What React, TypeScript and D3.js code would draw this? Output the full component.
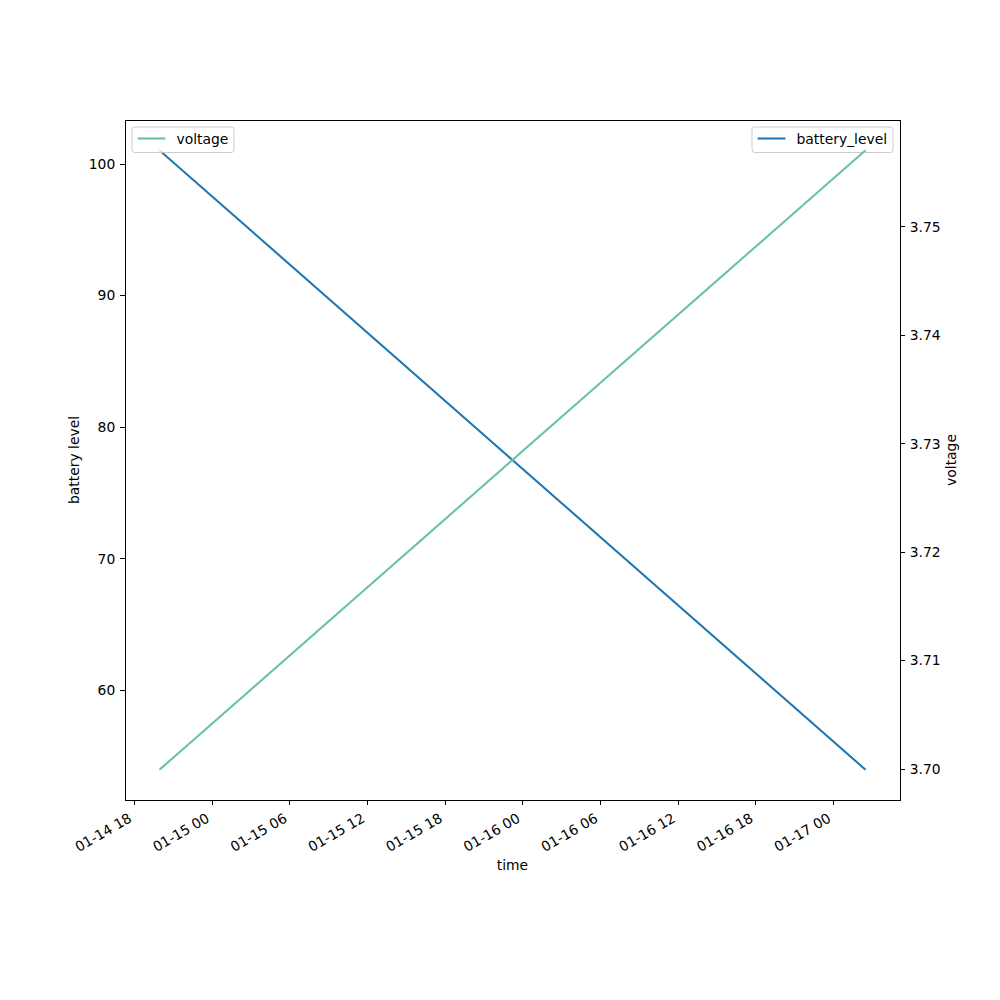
import React from "react";
import * as d3 from "d3";

const times = ["2024-01-14T20:00:00Z", "2024-01-17T02:25:00Z"];
const batteryLevel = [101, 54];
const voltage = [3.7, 3.757];
const xTickTimes = [
  "2024-01-14T18:00:00Z", "2024-01-15T00:00:00Z", "2024-01-15T06:00:00Z",
  "2024-01-15T12:00:00Z", "2024-01-15T18:00:00Z", "2024-01-16T00:00:00Z",
  "2024-01-16T06:00:00Z", "2024-01-16T12:00:00Z", "2024-01-16T18:00:00Z",
  "2024-01-17T00:00:00Z",
];
const leftTicks = [60, 70, 80, 90, 100];
const rightTicks = [3.7, 3.71, 3.72, 3.73, 3.74, 3.75];

const W = 1000, H = 1000;
const L = 125, R = 900, T = 120, B = 800;
const FS = 13.89;
const TICK = 4.86;
const PAD = 4.86;
const FONT = "DejaVu Sans, sans-serif";

function pad(ext: [number, number]): [number, number] {
  const s = ext[1] - ext[0];
  return [ext[0] - 0.05 * s, ext[1] + 0.05 * s];
}

export default function App() {
  const dates = times.map((t) => new Date(t));
  const tExt = d3.extent(dates.map((d) => +d)) as [number, number];
  const x = d3.scaleUtc().domain(pad(tExt).map((v) => new Date(v))).range([L, R]);
  const yL = d3.scaleLinear().domain(pad(d3.extent(batteryLevel) as [number, number])).range([B, T]);
  const yR = d3.scaleLinear().domain(pad(d3.extent(voltage) as [number, number])).range([B, T]);
  const fmt = d3.utcFormat("%m-%d %H");

  const battLine = d3.line<number>().x((_, i) => x(dates[i])).y((v) => yL(v))(batteryLevel) || "";
  const voltLine = d3.line<number>().x((_, i) => x(dates[i])).y((v) => yR(v))(voltage) || "";

  const legend = (x0: number, w: number, label: string, color: string) => (
    <g>
      <rect x={x0} y={127} width={w} height={25.5} rx={2.8} fill="white" fillOpacity={0.8} stroke="#cccccc" strokeWidth={1} />
      <line x1={x0 + 5.6} x2={x0 + 33.4} y1={138.5} y2={138.5} stroke={color} strokeWidth={2.08} />
      <text x={x0 + 44.5} y={143.5} fontSize={FS} fontFamily={FONT} fill="#000">{label}</text>
    </g>
  );

  return (
    <svg width={W} height={H} style={{ position: "absolute", left: 0, top: 0, background: "white" }}>
      <rect x={0} y={0} width={W} height={H} fill="white" />
      <defs>
        <clipPath id="plotclip">
          <rect x={L} y={T} width={R - L} height={B - T} />
        </clipPath>
      </defs>
      <path d={battLine} fill="none" stroke="#1f77b4" strokeWidth={2.08} clipPath="url(#plotclip)" strokeLinecap="square" />
      {legend(752, 141, "battery_level", "#1f77b4")}
      <path d={voltLine} fill="none" stroke="#66c2a5" strokeWidth={2.08} clipPath="url(#plotclip)" strokeLinecap="square" />
      {legend(132, 102, "voltage", "#66c2a5")}
      <rect x={L + 0.5} y={T + 0.5} width={R - L} height={B - T} fill="none" stroke="#000" strokeWidth={1} shapeRendering="crispEdges" />
      {xTickTimes.map((t) => {
        const d = new Date(t);
        const px = x(d);
        return (
          <g key={t}>
            <line x1={px} x2={px} y1={B} y2={B + TICK} stroke="#000" strokeWidth={1} shapeRendering="crispEdges" />
            <text
              transform={`translate(${px - 1.6},${B + TICK + PAD + 11.3}) rotate(-30)`}
              textAnchor="end"
              fontSize={FS}
              fontFamily={FONT}
              fill="#000"
            >
              {fmt(d)}
            </text>
          </g>
        );
      })}
      {leftTicks.map((v) => (
        <g key={"l" + v}>
          <line x1={L - TICK} x2={L} y1={yL(v)} y2={yL(v)} stroke="#000" strokeWidth={1} shapeRendering="crispEdges" />
          <text x={L - TICK - PAD} y={yL(v)} dy="0.35em" textAnchor="end" fontSize={FS} fontFamily={FONT} fill="#000">
            {v}
          </text>
        </g>
      ))}
      {rightTicks.map((v) => (
        <g key={"r" + v}>
          <line x1={R} x2={R + TICK} y1={yR(v)} y2={yR(v)} stroke="#000" strokeWidth={1} shapeRendering="crispEdges" />
          <text x={R + TICK + PAD} y={yR(v)} dy="0.35em" textAnchor="start" fontSize={FS} fontFamily={FONT} fill="#000">
            {v.toFixed(2)}
          </text>
        </g>
      ))}
      <text x={(L + R) / 2} y={870} textAnchor="middle" fontSize={FS} fontFamily={FONT} fill="#000">time</text>
      <text transform={`translate(79,${(T + B) / 2}) rotate(-90)`} textAnchor="middle" fontSize={FS} fontFamily={FONT} fill="#000">
        battery level
      </text>
      <text transform={`translate(956,${(T + B) / 2}) rotate(-90)`} textAnchor="middle" fontSize={FS} fontFamily={FONT} fill="#000">
        voltage
      </text>
    </svg>
  );
}
